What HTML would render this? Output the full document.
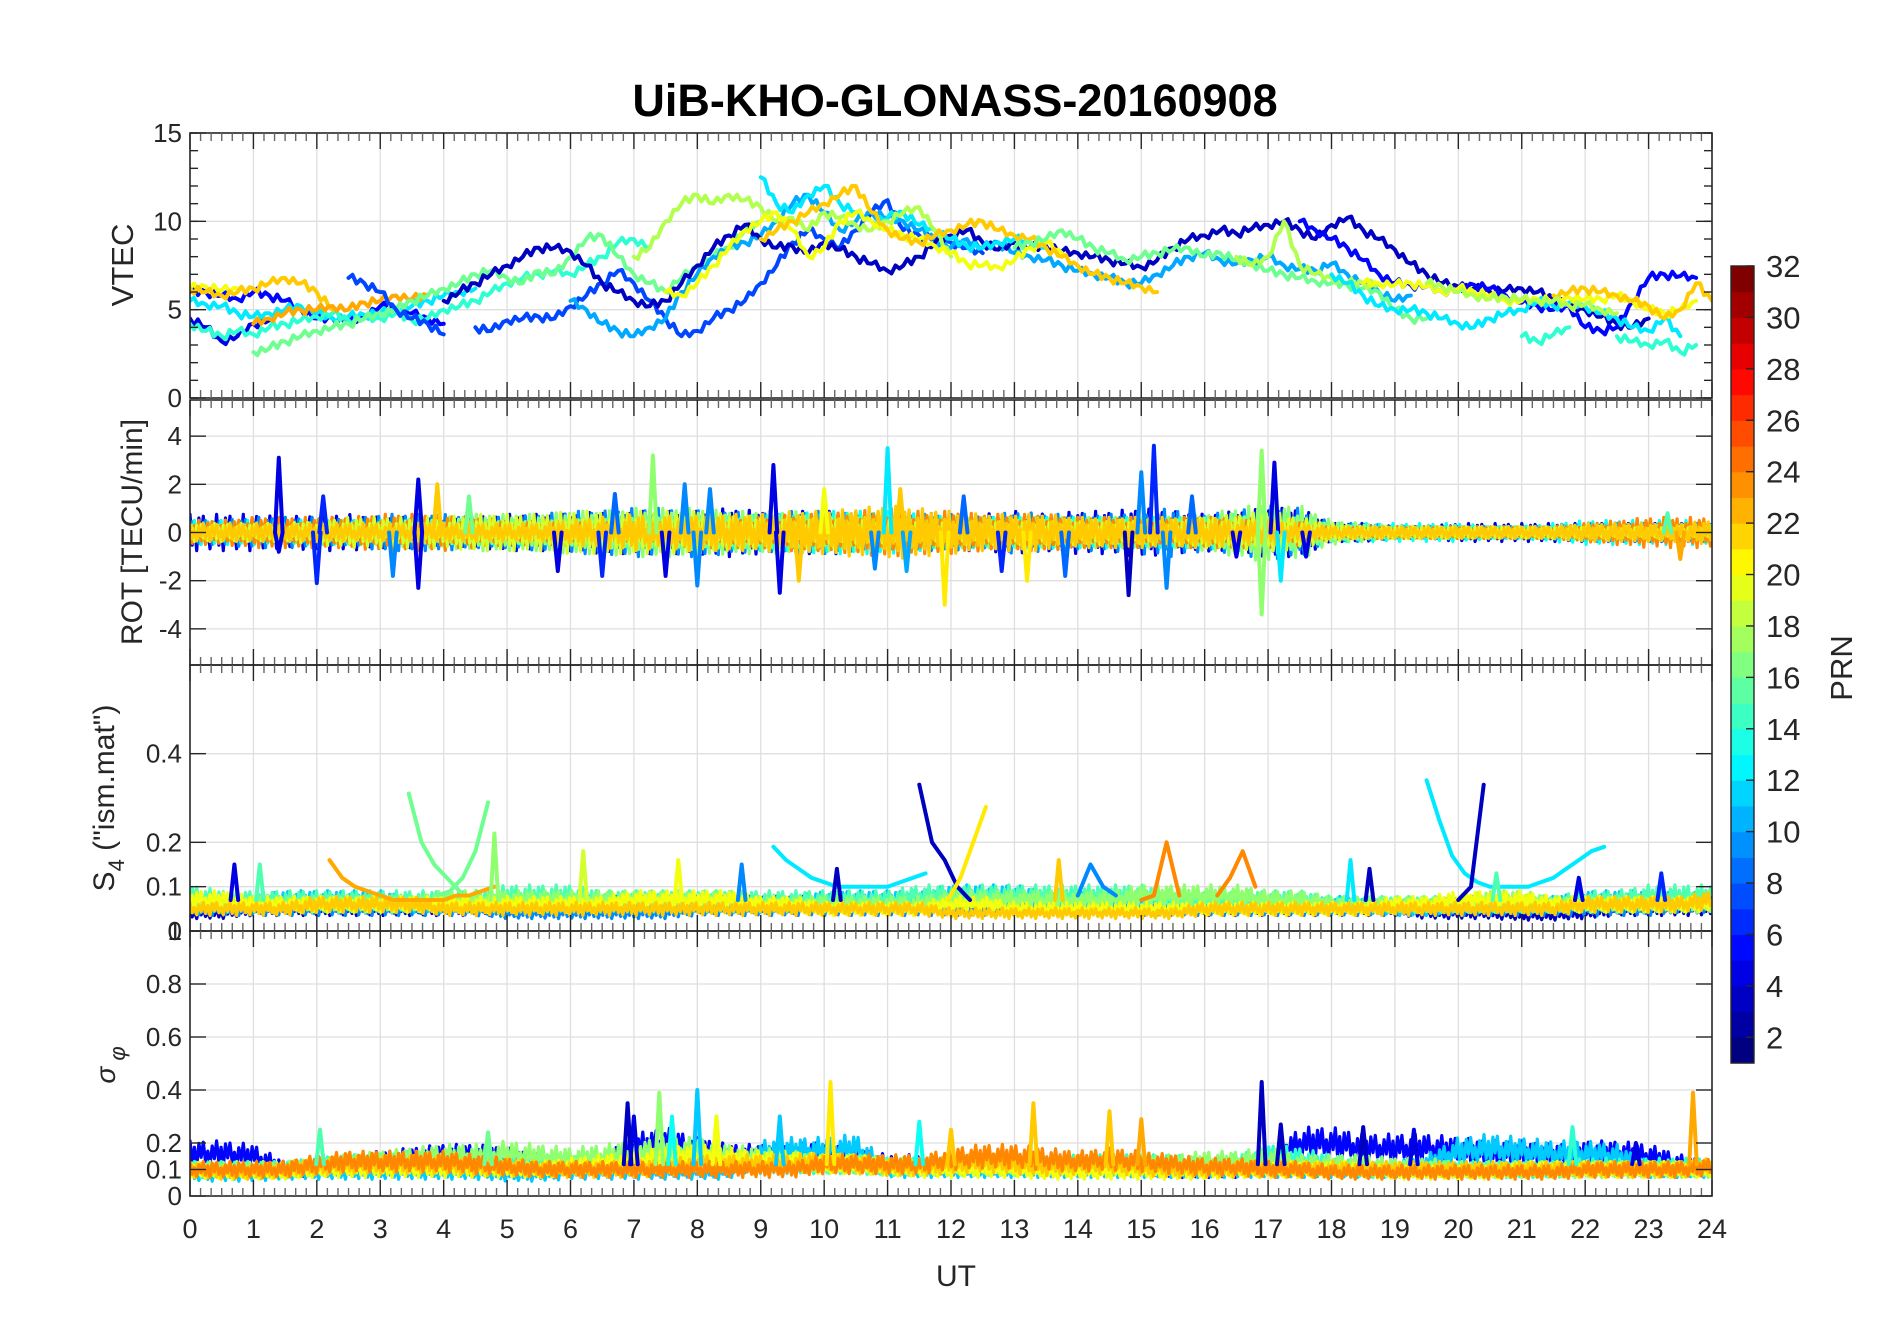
<!DOCTYPE html>
<html><head><meta charset="utf-8"><title>UiB-KHO-GLONASS-20160908</title>
<style>
html,body{margin:0;padding:0;background:#fff;}
svg{display:block;font-family:"Liberation Sans",sans-serif;}
</style></head>
<body>
<svg id="fig" width="1902" height="1330" viewBox="0 0 1902 1330">
<defs>
<clipPath id="clip-vtec"><rect x="190" y="133" width="1522" height="265"/></clipPath>
<clipPath id="clip-rot"><rect x="190" y="400" width="1522" height="265"/></clipPath>
<clipPath id="clip-s4"><rect x="190" y="665" width="1522" height="266"/></clipPath>
<clipPath id="clip-sig"><rect x="190" y="931" width="1522" height="265"/></clipPath>
</defs>
<g id="grids"></g>
<g id="marks">
<g id="m-vtec" clip-path="url(#clip-vtec)"></g>
<g id="m-rot" clip-path="url(#clip-rot)"></g>
<g id="m-s4" clip-path="url(#clip-s4)"></g>
<g id="m-sig" clip-path="url(#clip-sig)"></g>
</g>
<g id="axes"></g>
<text x="955" y="116" text-anchor="middle" font-size="45" font-weight="bold" fill="#000">UiB-KHO-GLONASS-20160908</text>
<text x="956" y="1286" text-anchor="middle" font-size="30" fill="#262626">UT</text>
<text transform="translate(133,265) rotate(-90)" text-anchor="middle" font-size="31" fill="#262626">VTEC</text>
<text transform="translate(142,532) rotate(-90)" text-anchor="middle" font-size="30" fill="#262626">ROT [TECU/min]</text>
<text transform="translate(114,798) rotate(-90)" text-anchor="middle" font-size="30" fill="#262626">S<tspan font-size="22" dy="10">4</tspan><tspan dy="-10"> ("ism.mat")</tspan></text>
<text transform="translate(115,1065) rotate(-90)" text-anchor="middle" font-size="28" font-style="italic" fill="#262626">σ<tspan font-size="22" dy="10"> φ</tspan></text>
<text transform="translate(1852,668) rotate(-90)" text-anchor="middle" font-size="31" fill="#262626">PRN</text>
<g id="cbar"></g>
</svg>
<script>
// ---------------- DATA ----------------
const hourTicks = [0,1,2,3,4,5,6,7,8,9,10,11,12,13,14,15,16,17,18,19,20,21,22,23,24];
const vtecTicks = [0,5,10,15];
const rotTicks = [-4,-2,0,2,4];
const s4Ticks = [0,0.1,0.2,0.4];
const sigTicks = [0,0.1,0.2,0.4,0.6,0.8];
const prnTicks = [2,4,6,8,10,12,14,16,18,20,22,24,26,28,30,32];

// VTEC series: PRN, start hour, step 0.25 h, values
const vtecPrn = [5,4,12,14,20,22,23,16,7,7,10,3,12,18,20,22,16,18,5,12,14,14,20,22,18];
const vtecT0  = [0,0,0,0,0,0,1,1,2.5,4.5,6,4,9,7,7.5,9,13,16.5,17.5,18,21,22.5,18.5,21.5,19.5];
const vtecVals = [
 [6,6,5.8,5.6,6.0,5.8,5.5,5.0,4.5,4.5,4.3,4.6,5.2,5.0,4.8,4.5,4.2],
 [4.5,4,3.2,3.5,4.2,4.4],
 [5.5,5.3,5.2,4.8,4.6,4.8,5,5.2,4.8,4.5,4.6,4.7,4.8,5,5.2,5.5,5.8,6,6.2],
 [4.2,3.8,3.5,3.8,3.6,4.0,4.2,4.4,4.6,4.8,4.4,4.5,4.5,4.8,4.4,4.5,5.0,5.2,5.5,6.0,6.5,6.8,7.0,7.2,7.0,7.5,8,8.8,9,8.5],
 [6.2,6.3,6.1,6.2],
 [6.2,6.0,5.8,6.0,6.2,6.5,6.8,6.5,6.0,5.0],
 [4.2,4.5,4.8,5.0,5.0,5.2,5.0,5.4,5.5,5.8,5.6,5.8],
 [2.6,2.8,3.2,3.5,3.8,4.0,4.2,4.5,4.8,5.0,5.5,5.8,6.2,6.5,7.0,7.2,6.8,6.5,7.2,7.0,8.0,9.0,9.2,8.0,7.0,6.5,6.0,6.8,7.5,8.0,8.5,9.5,10.0],
 [6.8,6.5,6.0,5.0,4.5,4.2,3.6],
 [4.0,3.8,4.4,4.5,4.6,4.5,5.2,5.8,6.5,7.2,6.5,5.5,4.5,3.5,3.8,4.5,5.0,5.5,6.5,7.5,8.8,9.5,9,8.5,9.5,10.5,11.2,9.5,9.2,9.0,8.8,8.5,8.2],
 [5.5,5,4.2,3.8,3.5,4.0,4.5,6,7,8,8.5,8.8,9.2,10,11,11.5,10.5,9.5,10,10.5,10.2,10,9.5,9.0,8.5,9.0,8.5,8.8,8.2,8.0,7.8,7.5,7.2,7.0,6.8,6.5,6.5,7.0,7.5,8.0,8.2,7.8,7.6,7.8,8.0,7.5,7.3,7.2,7.6,7.0,6.5,6.0,5.5,5.8],
 [5.5,6,6.5,7,7.5,8,8.5,8.5,8.3,7.5,6.5,6,5.5,5.2,5.5,6.5,7.5,8.5,9.2,9.8,9,8.5,8.6,8.2,8.8,8.4,8,7.6,7.2,7.5,8,8.8,9.2,9.5,8.8,8.4,8.8,8.5,8.6,8.3,8.2,8.0,7.8,7.6,7.4,7.8,8.5,9,9.2,9.5,9.3,9.6,9.8,10,9.5,9,9.8,10.2,9.5,9,8.4,7.6,7,6.5,6.3,6.2,6.0,6.1,6.2,6.0,5.6,5.2,5.0,4.6,4.2,4.0,4.5],
 [12.5,11,10.5,11.5,12,11,10.5,10,10.2,10.5,9.8,9.5,9.0,8.6,8.5,8.8,9.0,8.8,8.5],
 [8,8.5,10,11,11.5,11,11.5,11.2,10.8,10.0,10.2,9.5,10.5,10.2,9.8,9.5,10.0,10.5,10.8,9.5,8.0],
 [6.0,5.8,6.5,7.5,8.5,9.5,10,10.5,9.5,8.0,8.5,10,10.5,10,9.5,9.2,9.0,8.6,8.2,7.6,7.5,7.4,7.8,8.5,8.8,8.2],
 [9.0,9.5,10,10.5,11,11.5,12.0,10.5,9.5,9.0,8.8,9.2,9.5,9.8,10.0,9.5,9.2,9.0,8.5,8.0,7.5,7.0,6.8,6.5,6.3,6.0],
 [8.5,8.8,9.0,9.5,9.0,8.5,8.2,7.8,8.0,8.2,8.4,8.5,8.0,8.2,7.8,7.6,7.2,7.0,6.8,6.6,6.5,6.4,6.2,6.0,5.0,4.5,4.5],
 [8,7.5,8.0,10,7.5,7,6.8,6.5,6.5,6.4],
 [10,9.5,9,8.5,7.8,7,6.5,6.4,6.3,6.0,6.2,6.4,6.2,5.8,5.4,5.2,5.0,5.2,4.0,3.8,4.0,5.5,6.8,7,6.9,6.8],
 [7,6.5,5.8,5.2,5.0,5.0,4.8,4.5,4.2,4.0,4.5,4.8,5.0,5.5,5.2,5.4,5.2,4.8,4.5,4.0,3.8,4.5,3.5],
 [3.5,3.2,3.6,4.0],
 [3.5,3.2,3.0,3.2,2.6,3.0],
 [6.5,6.5,6.4,6.5,6.3,6.0,6.2,6.0,5.8,5.5,5.5,5.6,5.5,5.7,5.6,5.6,5.8,5.5,5.0,4.8,5.0,5.5],
 [5.8,6.0,6.2,6.0,5.8,5.5,5.2,4.5,5.0,6.5,5.5],
 [6.5,6.3,6.0,5.8,5.6,5.7,5.6,5.5,5.5,5.2,5.3,5.0,4.8]
];

// ROT: noise envelope per series (PRN, amplitude every 0.5 h from 0 h)
const rotPrn = [4,9,13,17,24,19,22];
const rotAmp = [
 [0.6,0.6,0.6,0.5,0.6,0.6,0.5,0.5,0.4,0.5,0.6,0.6,0.6,0.7,0.7,0.7,0.7,0.8,0.7,0.7,0.7,0.7,0.6,0.7,0.6,0.6,0.7,0.6,0.7,0.7,0.8,0.7,0.6,0.7,0.8,0.8,0.3,0.3,0.2,0.2,0.3,0.3,0.3,0.3,0.3,0.3,0.3,0.3,0.3],
 [0.4,0.4,0.5,0.5,0.5,0.4,0.6,0.6,0.6,0.5,0.5,0.6,0.7,0.7,0.8,0.8,0.8,0.7,0.6,0.7,0.7,0.6,0.6,0.6,0.6,0.5,0.7,0.6,0.6,0.6,0.7,0.8,0.6,0.7,0.9,0.8,0.3,0.3,0.2,0.2,0.2,0.2,0.2,0.2,0.3,0.3,0.3,0.3,0.3],
 [0.4,0.4,0.4,0.4,0.4,0.4,0.4,0.4,0.4,0.4,0.4,0.4,0.4,0.5,0.5,0.5,0.5,0.5,0.6,0.6,0.7,0.7,0.7,0.6,0.5,0.5,0.5,0.5,0.5,0.5,0.5,0.5,0.5,0.6,0.6,0.6,0.3,0.3,0.3,0.3,0.3,0.2,0.2,0.3,0.4,0.4,0.4,0.4,0.4],
 [0.3,0.3,0.3,0.3,0.4,0.4,0.4,0.5,0.5,0.6,0.6,0.6,0.7,0.7,0.8,0.8,0.8,0.7,0.7,0.7,0.6,0.6,0.5,0.5,0.5,0.5,0.5,0.5,0.5,0.5,0.5,0.5,0.6,0.8,1.0,0.9,0.4,0.3,0.2,0.2,0.2,0.2,0.2,0.2,0.2,0.2,0.3,0.3,0.3],
 [0.4,0.4,0.5,0.5,0.5,0.5,0.6,0.6,0.6,0.5,0.4,0.4,0.4,0.4,0.4,0.4,0.5,0.5,0.5,0.6,0.6,0.7,0.8,0.7,0.7,0.6,0.6,0.6,0.5,0.5,0.5,0.5,0.5,0.5,0.5,0.4,0.2,0.2,0.2,0.2,0.2,0.2,0.2,0.2,0.3,0.4,0.5,0.5,0.5],
 [0.3,0.3,0.3,0.3,0.4,0.5,0.5,0.5,0.5,0.6,0.6,0.6,0.7,0.7,0.7,0.7,0.7,0.6,0.5,0.5,0.5,0.5,0.5,0.4,0.4,0.4,0.4,0.4,0.4,0.4,0.4,0.4,0.5,0.6,0.7,0.5,0.3,0.2,0.2,0.2,0.2,0.2,0.2,0.2,0.2,0.2,0.2,0.2,0.2],
 [0.3,0.3,0.3,0.3,0.3,0.3,0.3,0.3,0.3,0.3,0.3,0.3,0.4,0.5,0.6,0.6,0.6,0.6,0.6,0.7,0.7,0.8,0.9,0.8,0.7,0.6,0.6,0.6,0.5,0.5,0.5,0.5,0.5,0.4,0.4,0.3,0.2,0.2,0.2,0.2,0.2,0.2,0.2,0.2,0.3,0.3,0.3,0.3,0.4]
];
const rotSpikeT   = [1.4,1.4,2.0,2.1,3.2,3.6,3.6,3.9,4.4,5.8,6.5,6.7,7.3,7.5,7.8,8.0,8.2,9.2,9.3,9.6,10.0,10.8,11.0,11.2,11.3,11.9,12.2,12.8,13.2,13.8,14.8,15.0,15.2,15.4,15.8,16.5,16.9,16.9,17.1,17.2,17.6,23.5,23.3];
const rotSpikeV   = [3.1,-0.8,-2.1,1.5,-1.8,2.2,-2.3,2.0,1.5,-1.6,-1.8,1.6,3.2,-1.8,2.0,-2.2,1.8,2.8,-2.5,-2.0,1.8,-1.5,3.5,1.8,-1.6,-3.0,1.5,-1.6,-2.0,-1.8,-2.6,2.5,3.6,-2.3,1.5,-1.0,3.4,-3.4,2.9,-2.0,-1.0,-1.1,0.8];
const rotSpikePrn = [4,4,6,6,9,4,4,22,16,4,6,8,17,4,9,9,9,4,4,22,20,9,12,22,10,21,8,6,21,8,3,9,6,9,8,4,17,17,4,12,4,23,15];

// S4 baselines: PRN, level every 0.5 h
const s4BasePrn = [3,9,11,15,17,20,22];
const s4Base = [
 [0.04,0.04,0.05,0.05,0.05,0.05,0.05,0.05,0.05,0.05,0.05,0.05,0.06,0.06,0.06,0.06,0.06,0.06,0.06,0.06,0.06,0.06,0.06,0.06,0.05,0.05,0.05,0.05,0.05,0.05,0.05,0.05,0.05,0.05,0.05,0.05,0.05,0.05,0.05,0.04,0.04,0.04,0.035,0.035,0.04,0.05,0.05,0.05,0.05],
 [0.05,0.05,0.05,0.05,0.05,0.05,0.05,0.05,0.05,0.05,0.04,0.04,0.04,0.04,0.04,0.04,0.05,0.05,0.05,0.05,0.05,0.05,0.05,0.05,0.05,0.05,0.06,0.06,0.06,0.06,0.05,0.05,0.05,0.05,0.05,0.05,0.05,0.05,0.05,0.05,0.05,0.05,0.05,0.05,0.05,0.05,0.05,0.06,0.06],
 [0.06,0.06,0.06,0.07,0.07,0.07,0.07,0.06,0.06,0.06,0.06,0.06,0.06,0.06,0.06,0.06,0.06,0.06,0.06,0.06,0.07,0.07,0.07,0.07,0.08,0.08,0.08,0.07,0.07,0.07,0.07,0.06,0.06,0.06,0.06,0.06,0.06,0.06,0.05,0.05,0.06,0.06,0.06,0.06,0.07,0.07,0.07,0.07,0.07],
 [0.08,0.07,0.07,0.07,0.07,0.07,0.07,0.07,0.07,0.07,0.08,0.08,0.08,0.07,0.07,0.07,0.07,0.07,0.07,0.07,0.07,0.07,0.07,0.08,0.08,0.08,0.08,0.08,0.08,0.08,0.08,0.07,0.07,0.07,0.07,0.07,0.06,0.06,0.06,0.06,0.06,0.06,0.06,0.06,0.07,0.07,0.08,0.08,0.08],
 [0.06,0.06,0.06,0.06,0.06,0.06,0.06,0.06,0.07,0.07,0.07,0.07,0.07,0.07,0.07,0.07,0.07,0.07,0.06,0.06,0.06,0.06,0.06,0.06,0.07,0.07,0.07,0.07,0.07,0.07,0.08,0.08,0.08,0.08,0.07,0.07,0.06,0.06,0.06,0.06,0.06,0.07,0.07,0.06,0.06,0.06,0.06,0.06,0.06],
 [0.07,0.07,0.06,0.06,0.06,0.06,0.06,0.06,0.06,0.06,0.06,0.06,0.06,0.06,0.07,0.07,0.07,0.07,0.06,0.06,0.05,0.05,0.05,0.05,0.06,0.06,0.05,0.05,0.05,0.05,0.05,0.05,0.05,0.05,0.05,0.05,0.05,0.05,0.06,0.06,0.07,0.07,0.07,0.06,0.06,0.06,0.06,0.06,0.06],
 [0.05,0.05,0.05,0.05,0.06,0.06,0.06,0.06,0.05,0.05,0.05,0.05,0.05,0.05,0.05,0.05,0.05,0.05,0.05,0.05,0.05,0.05,0.05,0.05,0.04,0.04,0.04,0.04,0.04,0.04,0.04,0.04,0.05,0.05,0.05,0.05,0.05,0.05,0.05,0.05,0.05,0.05,0.05,0.05,0.06,0.06,0.06,0.06,0.07]
];
// S4 events: PRN, start hour, step 0.2 h, values
const s4EvPrn = [23,16,16,12,3,21,12,3,24,24,9];
const s4EvT0  = [2.2,3.45,3.9,9.2,11.5,11.95,19.5,20.0,15.0,16.2,14.0];
const s4EvVals = [
 [0.16,0.12,0.1,0.09,0.08,0.07,0.07,0.07,0.07,0.07,0.08,0.08,0.09,0.1],
 [0.31,0.2,0.15,0.12,0.09],
 [0.08,0.09,0.12,0.18,0.29],
 [0.19,0.16,0.14,0.12,0.11,0.1,0.1,0.1,0.1,0.1,0.11,0.12,0.13],
 [0.33,0.2,0.16,0.1,0.07],
 [0.07,0.12,0.2,0.28],
 [0.34,0.25,0.17,0.13,0.11,0.1,0.1,0.1,0.1,0.11,0.12,0.14,0.16,0.18,0.19],
 [0.07,0.1,0.33],
 [0.07,0.08,0.2,0.08],
 [0.08,0.12,0.18,0.1],
 [0.08,0.15,0.1,0.08]
];
const s4SpikeT   = [0.7,1.1,4.8,6.2,7.7,8.7,10.2,13.7,18.3,18.6,23.2,20.6,21.9];
const s4SpikeV   = [0.15,0.15,0.22,0.18,0.16,0.15,0.14,0.16,0.16,0.14,0.13,0.13,0.12];
const s4SpikePrn = [4,15,17,19,20,9,3,22,12,3,6,15,4];

// sigma-phi baselines: PRN, level every 0.5 h
const sigBasePrn = [5,11,14,17,20,22,24];
const sigBase = [
 [0.16,0.16,0.15,0.1,0.11,0.12,0.13,0.14,0.15,0.15,0.14,0.12,0.11,0.11,0.18,0.2,0.17,0.15,0.15,0.15,0.16,0.14,0.12,0.12,0.12,0.12,0.12,0.12,0.12,0.12,0.12,0.1,0.1,0.1,0.12,0.2,0.2,0.18,0.18,0.18,0.17,0.16,0.16,0.15,0.16,0.16,0.15,0.12,0.1],
 [0.08,0.08,0.08,0.09,0.09,0.09,0.09,0.09,0.09,0.09,0.08,0.08,0.09,0.09,0.09,0.09,0.09,0.09,0.16,0.17,0.17,0.18,0.1,0.1,0.1,0.1,0.1,0.1,0.1,0.1,0.1,0.1,0.1,0.1,0.1,0.1,0.1,0.1,0.1,0.12,0.17,0.18,0.17,0.16,0.16,0.15,0.1,0.1,0.1],
 [0.1,0.1,0.1,0.1,0.11,0.12,0.12,0.13,0.12,0.12,0.12,0.12,0.12,0.12,0.13,0.14,0.14,0.13,0.12,0.12,0.12,0.12,0.11,0.11,0.11,0.11,0.11,0.11,0.12,0.12,0.12,0.12,0.11,0.12,0.15,0.14,0.12,0.1,0.1,0.1,0.1,0.1,0.1,0.1,0.11,0.11,0.11,0.11,0.11],
 [0.1,0.1,0.1,0.1,0.11,0.12,0.13,0.14,0.15,0.15,0.16,0.15,0.14,0.15,0.16,0.17,0.17,0.15,0.14,0.13,0.12,0.12,0.11,0.11,0.11,0.11,0.11,0.11,0.11,0.11,0.12,0.12,0.13,0.13,0.14,0.12,0.12,0.12,0.11,0.11,0.1,0.1,0.1,0.1,0.1,0.1,0.1,0.1,0.1],
 [0.1,0.09,0.09,0.09,0.1,0.1,0.1,0.1,0.1,0.1,0.1,0.1,0.11,0.12,0.13,0.14,0.15,0.14,0.13,0.13,0.12,0.12,0.11,0.1,0.1,0.1,0.1,0.09,0.09,0.09,0.09,0.09,0.09,0.1,0.1,0.1,0.1,0.1,0.09,0.09,0.09,0.09,0.1,0.1,0.1,0.1,0.1,0.1,0.1],
 [0.1,0.09,0.09,0.1,0.11,0.12,0.12,0.12,0.12,0.11,0.11,0.1,0.1,0.1,0.1,0.11,0.12,0.12,0.12,0.12,0.13,0.12,0.11,0.11,0.12,0.13,0.12,0.11,0.12,0.12,0.11,0.1,0.1,0.1,0.1,0.1,0.1,0.1,0.1,0.1,0.1,0.1,0.1,0.1,0.1,0.1,0.1,0.1,0.11],
 [0.1,0.1,0.1,0.1,0.12,0.13,0.13,0.13,0.13,0.12,0.11,0.1,0.1,0.1,0.1,0.1,0.1,0.1,0.1,0.1,0.12,0.12,0.12,0.12,0.14,0.15,0.15,0.14,0.13,0.14,0.13,0.12,0.11,0.11,0.1,0.1,0.09,0.09,0.09,0.09,0.09,0.09,0.09,0.09,0.1,0.1,0.1,0.1,0.11]
];
const sigSpikeT   = [2.05,4.7,6.9,7.0,7.4,7.6,8.0,8.3,9.3,10.1,11.5,12.0,13.3,14.5,15.0,16.9,17.2,18.5,19.3,21.8,22.8,23.7];
const sigSpikeV   = [0.25,0.24,0.35,0.3,0.39,0.3,0.4,0.3,0.3,0.43,0.28,0.25,0.35,0.32,0.29,0.43,0.27,0.26,0.25,0.26,0.2,0.39];
const sigSpikePrn = [15,16,3,4,17,13,11,20,11,21,13,22,22,22,23,3,3,3,4,14,4,23];

// ---------------- RENDER ----------------
const NS = 'http://www.w3.org/2000/svg';
const X0 = 190, X1 = 1712;
const panels = {
  vtec: {top:133, bot:398, min:0, max:15, g:'m-vtec'},
  rot:  {top:400, bot:665, min:-5.5, max:5.5, g:'m-rot'},
  s4:   {top:665, bot:931, min:0, max:0.6, g:'m-s4'},
  sig:  {top:931, bot:1196, min:0, max:1, g:'m-sig'}
};
function xs(t){ return X0 + (t/24)*(X1-X0); }
function ys(p, v){ return p.bot - (v-p.min)/(p.max-p.min)*(p.bot-p.top); }
function jet(prn){
  const f = (prn-1)/31;
  const c = x => Math.round(255*Math.max(0, Math.min(1, x)));
  return `rgb(${c(1.5-Math.abs(4*f-3))},${c(1.5-Math.abs(4*f-2))},${c(1.5-Math.abs(4*f-1))})`;
}
function el(tag, attrs, parent){
  const e = document.createElementNS(NS, tag);
  for (const k in attrs) e.setAttribute(k, attrs[k]);
  parent.appendChild(e);
  return e;
}
const grids = document.getElementById('grids');
const axes = document.getElementById('axes');
const wiggle = [1,-0.7,0.5,-1,0.8,-0.3,0.9,-0.6,0.2,-0.9,0.6,-0.4];

function line(p, pts, prn, name, w){
  const pl = el('polyline', {points: pts.map(q=>q[0].toFixed(1)+','+q[1].toFixed(1)).join(' '), fill:'none', stroke: jet(prn), 'stroke-width': w||4, 'stroke-linejoin':'round', 'stroke-linecap':'round'}, document.getElementById(p.g));
  
  
  return pl;
}

// VTEC (with small jagged sub-steps as drawing style)
vtecVals.forEach((vals, i) => {
  const p = panels.vtec;
  const pts = [];
  let k = 0;
  for (let j = 0; j < vals.length; j++) {
    const t = vtecT0[i] + j*0.25;
    pts.push([xs(t), ys(p, vals[j])]);
    if (j < vals.length-1) {
      for (let s = 1; s < 4; s++, k++) {
        const fr = s/4;
        const v = vals[j]*(1-fr) + vals[j+1]*fr + 0.25*wiggle[(k+i*3) % wiggle.length];
        pts.push([xs(t + fr*0.25), ys(p, v)]);
      }
    }
  }
  line(p, pts, vtecPrn[i], 'vtec-line-prn' + vtecPrn[i], 4);
});

function bandSeries(p, base, prns, mode, name, gain){
  base.forEach((arr, i) => {
    const pts = [];
    let k = 0;
    for (let t = 0; t <= 24.001; t += 0.035, k++) {
      const idx = Math.min(arr.length-1, Math.floor(t/0.5));
      const nxt = Math.min(arr.length-1, idx+1);
      const fr = t/0.5 - idx;
      const a = arr[idx]*(1-fr) + arr[nxt]*fr;
      const w = wiggle[(k + i*5) % wiggle.length];
      const v = mode === 'sym' ? a*w*gain : a*(1 + gain*w);
      pts.push([xs(Math.min(t,24)), ys(p, v)]);
    }
    line(p, pts, prns[i], name + '-prn' + prns[i], 3.2);
  });
}
function spikes(p, T, V, P, baseV, name){
  T.forEach((t, i) => {
    const pts = [[xs(t-0.06), ys(p, baseV)], [xs(t), ys(p, V[i])], [xs(t+0.06), ys(p, baseV)]];
    line(p, pts, P[i], name + '-prn' + P[i], 4);
  });
}

bandSeries(panels.rot, rotAmp, rotPrn, 'sym', 'rot-line', 1.25);
spikes(panels.rot, rotSpikeT, rotSpikeV, rotSpikePrn, 0, 'rot-spike');

bandSeries(panels.s4, s4Base, s4BasePrn, 'lvl', 's4-line', 0.3);
s4EvVals.forEach((vals, i) => {
  const pts = vals.map((v, j) => [xs(s4EvT0[i] + j*0.2), ys(panels.s4, v)]);
  line(panels.s4, pts, s4EvPrn[i], 's4-event-prn' + s4EvPrn[i], 4);
});
spikes(panels.s4, s4SpikeT, s4SpikeV, s4SpikePrn, 0.07, 's4-spike');

bandSeries(panels.sig, sigBase, sigBasePrn, 'lvl', 'sigma-line', 0.3);
spikes(panels.sig, sigSpikeT, sigSpikeV, sigSpikePrn, 0.12, 'sigma-spike');

// axes & grids
const axisCol = '#262626';
function drawPanel(key, ticks, minorStep, name){
  const p = panels[key];
  hourTicks.forEach(t => {
    if (t > 0 && t < 24) el('line', {x1: xs(t), x2: xs(t), y1: p.top, y2: p.bot, stroke:'#dfdfdf', 'stroke-width':1.3}, grids);
  });
  ticks.forEach(v => {
    if (v > p.min && v < p.max) el('line', {x1: X0, x2: X1, y1: ys(p, v), y2: ys(p, v), stroke:'#dfdfdf', 'stroke-width':1.3}, grids);
  });
  const g = el('g', {}, axes);
  
  
  el('rect', {x: X0, y: p.top, width: X1-X0, height: p.bot-p.top, fill:'none', stroke: axisCol, 'stroke-width':1.6}, g);
  for (let k = 0; k <= 144; k++) {
    const x = xs(k/6);
    const major = k % 6 === 0;
    const L = major ? 16 : 8;
    el('line', {x1:x, x2:x, y1:p.bot, y2:p.bot-L, stroke: major?axisCol:'#666', 'stroke-width':1.4}, g);
    el('line', {x1:x, x2:x, y1:p.top, y2:p.top+L, stroke: major?axisCol:'#666', 'stroke-width':1.4}, g);
  }
  if (minorStep) {
    for (let v = p.min; v <= p.max+1e-9; v += minorStep) {
      const y = ys(p, v);
      el('line', {x1:X0, x2:X0+8, y1:y, y2:y, stroke:axisCol, 'stroke-width':1.4}, g);
      el('line', {x1:X1, x2:X1-8, y1:y, y2:y, stroke:axisCol, 'stroke-width':1.4}, g);
    }
  }
  ticks.forEach(v => {
    const y = ys(p, v);
    el('line', {x1:X0, x2:X0+16, y1:y, y2:y, stroke:axisCol, 'stroke-width':1.4}, g);
    el('line', {x1:X1, x2:X1-16, y1:y, y2:y, stroke:axisCol, 'stroke-width':1.4}, g);
    const tx = el('text', {x: X0-8, y: y+9, 'text-anchor':'end', 'font-size':26, fill:axisCol}, g);
    tx.textContent = String(v);
    
    
  });
}
drawPanel('vtec', vtecTicks, 1, 'vtec-axis');
drawPanel('rot', rotTicks, null, 'rot-axis');
drawPanel('s4', s4Ticks, null, 's4-axis');
drawPanel('sig', sigTicks, null, 'sigma-axis');
const one = el('text', {x: X0-8, y: panels.sig.top+9, 'text-anchor':'end', 'font-size':26, fill:axisCol}, axes);
one.textContent = '1';



hourTicks.forEach(t => {
  const tx = el('text', {x: xs(t), y: 1238, 'text-anchor':'middle', 'font-size':27, fill:axisCol}, axes);
  tx.textContent = String(t);
  
  
});

// colorbar
const cb = document.getElementById('cbar');
const CB = {x:1731, w:23, top:266, bot:1063, min:1, max:32};
function cy(v){ return CB.bot - (v-CB.min)/(CB.max-CB.min)*(CB.bot-CB.top); }
for (let i = 0; i < 31; i++) {
  const r = el('rect', {x: CB.x, y: cy(i+2), width: CB.w, height: cy(i+1)-cy(i+2)+0.6, fill: jet(1 + i*31/30)}, cb);
  
  
}
el('rect', {x: CB.x, y: CB.top, width: CB.w, height: CB.bot-CB.top, fill:'none', stroke:axisCol, 'stroke-width':1.4}, cb);
prnTicks.forEach(v => {
  el('line', {x1: CB.x+CB.w-8, x2: CB.x+CB.w, y1: cy(v), y2: cy(v), stroke:axisCol, 'stroke-width':1.4}, cb);
  const tx = el('text', {x: CB.x+CB.w+12, y: cy(v)+11, 'font-size':31, fill:axisCol}, cb);
  tx.textContent = String(v);
  
  
});
</script>
</body></html>
